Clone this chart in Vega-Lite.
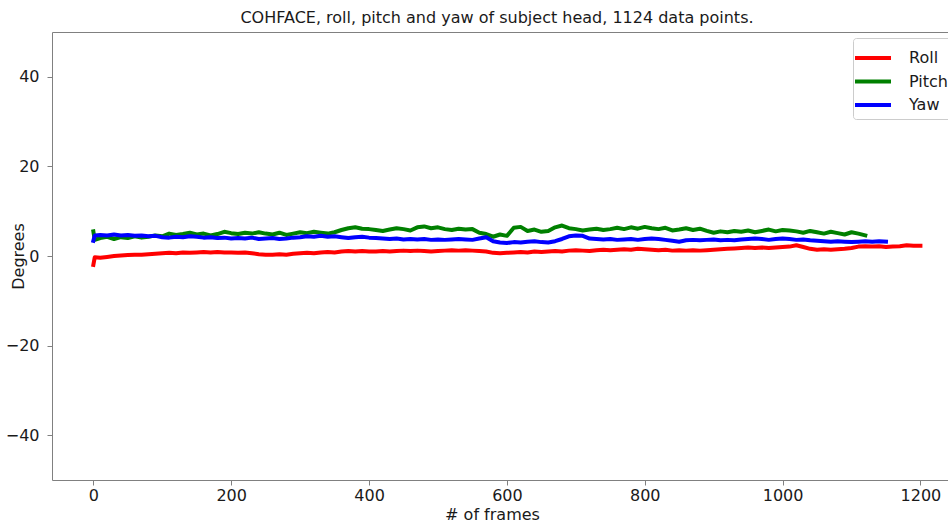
{
  "$schema": "https://vega.github.io/schema/vega-lite/v6.json",
  "width": 896,
  "height": 448,
  "autosize": "none",
  "padding": {"left": 52, "top": 32, "right": 0, "bottom": 42},
  "background": "white",
  "title": {"text": "COHFACE, roll, pitch and yaw of subject head, 1124 data points.", "font": "DejaVu Sans", "fontSize": 16, "fontWeight": "normal", "color": "#1a1a1a", "offset": 6, "dx": -3},
  "config": {
    "view": {"stroke": null},
    "font": "DejaVu Sans",
    "axis": {"grid": false, "domainColor": "#808080", "tickColor": "#808080", "tickSize": 5, "labelFontSize": 16, "labelColor": "#1a1a1a", "titleFontSize": 16, "titleFontWeight": "normal", "titleColor": "#1a1a1a", "labelFont": "DejaVu Sans", "titleFont": "DejaVu Sans"}
  },
  "data": {"values": [
{"f":0,"Roll":-2.0,"Pitch":5.5,"Yaw":3.4},
{"f":2,"Roll":-0.3,"Pitch":3.6,"Yaw":4.6},
{"f":10,"Roll":-0.4,"Pitch":4.0,"Yaw":4.7},
{"f":20,"Roll":-0.2,"Pitch":4.3,"Yaw":4.6},
{"f":30,"Roll":0.0,"Pitch":3.8,"Yaw":4.8},
{"f":40,"Roll":0.1,"Pitch":4.2,"Yaw":4.6},
{"f":50,"Roll":0.2,"Pitch":4.0,"Yaw":4.7},
{"f":60,"Roll":0.3,"Pitch":4.4,"Yaw":4.5},
{"f":70,"Roll":0.3,"Pitch":4.1,"Yaw":4.6},
{"f":80,"Roll":0.4,"Pitch":4.3,"Yaw":4.4},
{"f":90,"Roll":0.5,"Pitch":4.6,"Yaw":4.5},
{"f":100,"Roll":0.6,"Pitch":4.4,"Yaw":4.2},
{"f":110,"Roll":0.7,"Pitch":5.0,"Yaw":4.1},
{"f":120,"Roll":0.6,"Pitch":4.7,"Yaw":4.3},
{"f":130,"Roll":0.8,"Pitch":4.9,"Yaw":4.2},
{"f":140,"Roll":0.7,"Pitch":5.2,"Yaw":4.4},
{"f":150,"Roll":0.8,"Pitch":4.8,"Yaw":4.3},
{"f":160,"Roll":0.9,"Pitch":5.0,"Yaw":4.1},
{"f":170,"Roll":0.8,"Pitch":4.6,"Yaw":4.2},
{"f":180,"Roll":0.9,"Pitch":4.9,"Yaw":4.0},
{"f":190,"Roll":0.8,"Pitch":5.4,"Yaw":4.1},
{"f":200,"Roll":0.8,"Pitch":5.1,"Yaw":3.9},
{"f":210,"Roll":0.7,"Pitch":4.9,"Yaw":4.0},
{"f":220,"Roll":0.8,"Pitch":5.2,"Yaw":3.9},
{"f":230,"Roll":0.6,"Pitch":5.0,"Yaw":4.1},
{"f":240,"Roll":0.4,"Pitch":5.3,"Yaw":3.8},
{"f":250,"Roll":0.3,"Pitch":5.0,"Yaw":3.9},
{"f":260,"Roll":0.3,"Pitch":4.8,"Yaw":4.0},
{"f":270,"Roll":0.4,"Pitch":5.2,"Yaw":3.8},
{"f":280,"Roll":0.3,"Pitch":4.7,"Yaw":3.9},
{"f":290,"Roll":0.5,"Pitch":5.0,"Yaw":4.1},
{"f":300,"Roll":0.6,"Pitch":5.3,"Yaw":4.2},
{"f":310,"Roll":0.7,"Pitch":5.1,"Yaw":4.4},
{"f":320,"Roll":0.6,"Pitch":5.4,"Yaw":4.3},
{"f":330,"Roll":0.8,"Pitch":5.2,"Yaw":4.5},
{"f":340,"Roll":0.9,"Pitch":5.0,"Yaw":4.3},
{"f":350,"Roll":0.8,"Pitch":5.3,"Yaw":4.4},
{"f":360,"Roll":1.0,"Pitch":5.8,"Yaw":4.2},
{"f":370,"Roll":1.1,"Pitch":6.2,"Yaw":4.0},
{"f":380,"Roll":1.0,"Pitch":6.4,"Yaw":4.2},
{"f":390,"Roll":1.1,"Pitch":6.1,"Yaw":4.3},
{"f":400,"Roll":1.0,"Pitch":6.0,"Yaw":4.1},
{"f":410,"Roll":1.0,"Pitch":5.8,"Yaw":4.0},
{"f":420,"Roll":1.1,"Pitch":5.6,"Yaw":3.9},
{"f":430,"Roll":1.0,"Pitch":5.9,"Yaw":3.8},
{"f":440,"Roll":1.1,"Pitch":6.2,"Yaw":3.9},
{"f":450,"Roll":1.2,"Pitch":6.0,"Yaw":3.7},
{"f":460,"Roll":1.1,"Pitch":5.7,"Yaw":3.8},
{"f":470,"Roll":1.2,"Pitch":6.4,"Yaw":3.7},
{"f":480,"Roll":1.1,"Pitch":6.6,"Yaw":3.8},
{"f":490,"Roll":1.0,"Pitch":6.2,"Yaw":3.6},
{"f":500,"Roll":1.1,"Pitch":6.4,"Yaw":3.7},
{"f":510,"Roll":1.2,"Pitch":6.0,"Yaw":3.6},
{"f":520,"Roll":1.3,"Pitch":5.8,"Yaw":3.7},
{"f":530,"Roll":1.2,"Pitch":6.1,"Yaw":3.8},
{"f":540,"Roll":1.3,"Pitch":5.9,"Yaw":3.7},
{"f":550,"Roll":1.2,"Pitch":6.0,"Yaw":3.6},
{"f":560,"Roll":1.1,"Pitch":5.2,"Yaw":3.9},
{"f":570,"Roll":1.0,"Pitch":4.9,"Yaw":4.2},
{"f":580,"Roll":0.7,"Pitch":4.3,"Yaw":3.3},
{"f":590,"Roll":0.6,"Pitch":4.8,"Yaw":3.0},
{"f":600,"Roll":0.7,"Pitch":4.5,"Yaw":2.9},
{"f":610,"Roll":0.8,"Pitch":6.3,"Yaw":3.1},
{"f":620,"Roll":0.9,"Pitch":6.5,"Yaw":3.0},
{"f":630,"Roll":0.8,"Pitch":5.6,"Yaw":3.2},
{"f":640,"Roll":1.0,"Pitch":5.9,"Yaw":3.3},
{"f":650,"Roll":0.9,"Pitch":5.4,"Yaw":3.1},
{"f":660,"Roll":1.0,"Pitch":5.6,"Yaw":3.0},
{"f":670,"Roll":1.1,"Pitch":6.4,"Yaw":3.3},
{"f":680,"Roll":1.0,"Pitch":6.8,"Yaw":3.8},
{"f":690,"Roll":1.2,"Pitch":6.2,"Yaw":4.4},
{"f":700,"Roll":1.3,"Pitch":6.0,"Yaw":4.6},
{"f":710,"Roll":1.2,"Pitch":5.7,"Yaw":4.5},
{"f":720,"Roll":1.1,"Pitch":5.9,"Yaw":3.9},
{"f":730,"Roll":1.3,"Pitch":6.1,"Yaw":3.8},
{"f":740,"Roll":1.4,"Pitch":5.8,"Yaw":3.7},
{"f":750,"Roll":1.3,"Pitch":6.0,"Yaw":3.8},
{"f":760,"Roll":1.4,"Pitch":6.3,"Yaw":3.6},
{"f":770,"Roll":1.5,"Pitch":6.0,"Yaw":3.7},
{"f":780,"Roll":1.4,"Pitch":6.4,"Yaw":3.8},
{"f":790,"Roll":1.6,"Pitch":6.1,"Yaw":3.6},
{"f":800,"Roll":1.5,"Pitch":6.5,"Yaw":3.8},
{"f":810,"Roll":1.4,"Pitch":6.2,"Yaw":3.9},
{"f":820,"Roll":1.3,"Pitch":6.0,"Yaw":3.8},
{"f":830,"Roll":1.4,"Pitch":6.3,"Yaw":3.6},
{"f":840,"Roll":1.2,"Pitch":5.7,"Yaw":3.4},
{"f":850,"Roll":1.3,"Pitch":5.9,"Yaw":3.2},
{"f":860,"Roll":1.2,"Pitch":6.2,"Yaw":3.5},
{"f":870,"Roll":1.3,"Pitch":5.8,"Yaw":3.6},
{"f":880,"Roll":1.2,"Pitch":6.1,"Yaw":3.5},
{"f":890,"Roll":1.3,"Pitch":5.6,"Yaw":3.6},
{"f":900,"Roll":1.4,"Pitch":5.2,"Yaw":3.7},
{"f":910,"Roll":1.5,"Pitch":5.5,"Yaw":3.5},
{"f":920,"Roll":1.6,"Pitch":5.3,"Yaw":3.6},
{"f":930,"Roll":1.7,"Pitch":5.6,"Yaw":3.5},
{"f":940,"Roll":1.8,"Pitch":5.4,"Yaw":3.7},
{"f":950,"Roll":1.9,"Pitch":5.7,"Yaw":3.8},
{"f":960,"Roll":1.8,"Pitch":5.3,"Yaw":3.9},
{"f":970,"Roll":1.9,"Pitch":5.6,"Yaw":3.8},
{"f":980,"Roll":1.8,"Pitch":5.9,"Yaw":3.6},
{"f":990,"Roll":1.9,"Pitch":5.5,"Yaw":3.8},
{"f":1000,"Roll":2.0,"Pitch":5.8,"Yaw":3.9},
{"f":1010,"Roll":2.1,"Pitch":5.7,"Yaw":3.8},
{"f":1020,"Roll":2.4,"Pitch":5.5,"Yaw":3.6},
{"f":1030,"Roll":2.0,"Pitch":5.2,"Yaw":3.7},
{"f":1040,"Roll":1.6,"Pitch":5.6,"Yaw":3.5},
{"f":1050,"Roll":1.4,"Pitch":5.3,"Yaw":3.4},
{"f":1060,"Roll":1.5,"Pitch":5.0,"Yaw":3.3},
{"f":1070,"Roll":1.4,"Pitch":5.4,"Yaw":3.2},
{"f":1080,"Roll":1.5,"Pitch":5.1,"Yaw":3.3},
{"f":1090,"Roll":1.6,"Pitch":4.8,"Yaw":3.2},
{"f":1100,"Roll":1.8,"Pitch":5.3,"Yaw":3.1},
{"f":1110,"Roll":2.1,"Pitch":5.0,"Yaw":3.2},
{"f":1120,"Roll":2.2,"Pitch":4.6,"Yaw":3.3},
{"f":1130,"Roll":2.1,"Yaw":3.2},
{"f":1140,"Roll":2.2,"Yaw":3.3},
{"f":1150,"Roll":2.0,"Yaw":3.2},
{"f":1160,"Roll":2.1},
{"f":1170,"Roll":2.2},
{"f":1180,"Roll":2.4},
{"f":1190,"Roll":2.3},
{"f":1200,"Roll":2.3}
  ]},
  "transform": [
    {"fold": ["Roll", "Pitch", "Yaw"], "as": ["series", "value"]},
    {"filter": "isValid(datum.value)"}
  ],
  "layer": [
    {
      "mark": {"type": "line", "strokeWidth": 4, "strokeJoin": "round", "strokeCap": "square"},
      "encoding": {
        "x": {"field": "f", "type": "quantitative", "scale": {"domain": [-60, 1240], "nice": false, "zero": false},
              "axis": {"title": "# of frames", "values": [0, 200, 400, 600, 800, 1000, 1200], "format": "d", "labelPadding": 2, "titleY": 34, "titleBaseline": "middle", "titleX": 440}},
        "y": {"field": "value", "type": "quantitative", "scale": {"domain": [-50, 50], "nice": false},
              "axis": {"title": "Degrees", "values": [-40, -20, 0, 20, 40], "labelPadding": 8, "titleX": -34, "titleBaseline": "middle", "titleY": 224}},
        "color": {"field": "series", "type": "nominal",
                  "scale": {"domain": ["Roll", "Pitch", "Yaw"], "range": ["#ff0000", "#008000", "#0000ff"]},
                  "legend": {"title": null, "orient": "none", "legendX": 801, "legendY": 6, "symbolType": "M-1.5,0H1.5", "symbolSize": 576, "symbolStrokeWidth": 4, "labelFontSize": 16, "labelColor": "#1a1a1a", "labelFont": "DejaVu Sans", "fillColor": "white", "strokeColor": "#cccccc", "cornerRadius": 3, "padding": 6, "labelOffset": 22, "rowPadding": 1.5}},
        "order": {"field": "f", "type": "quantitative"}
      }
    },
    {
      "mark": {"type": "line", "opacity": 0},
      "encoding": {
        "x": {"field": "f", "type": "quantitative", "axis": {"orient": "top", "labels": false, "ticks": false, "title": null}},
        "y": {"field": "value", "type": "quantitative"},
        "detail": {"field": "series"}
      }
    }
  ],
  "resolve": {"axis": {"x": "independent"}}
}
